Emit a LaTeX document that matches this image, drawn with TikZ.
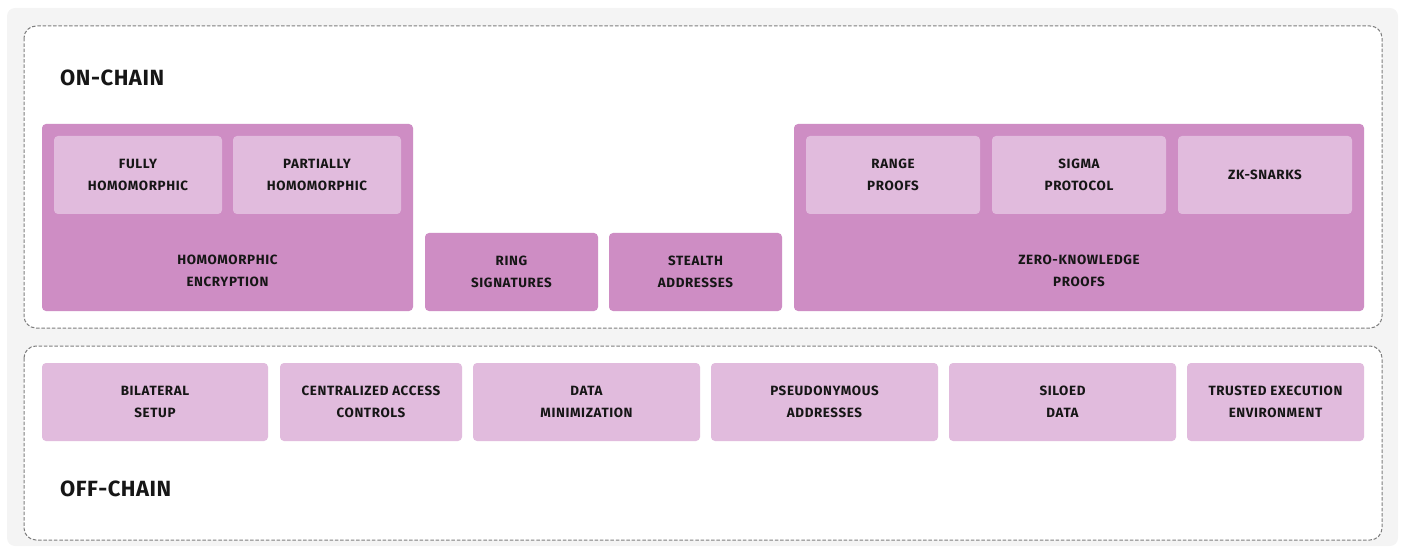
\documentclass[tikz,border=0pt]{standalone}
\usepackage{fontspec}
\setmainfont{Fira Sans}
\definecolor{pagegray}{HTML}{F4F4F4}
\definecolor{frame}{HTML}{7E7E7E}
\definecolor{groupfill}{HTML}{CE8DC4}
\definecolor{itemfill}{HTML}{E1BBDD}
\definecolor{ink}{HTML}{161616}
\tikzset{
  zone/.style={draw=frame, line width=1pt, dash pattern=on 3.5pt off 1.8pt, fill=white, rounded corners=12pt},
  groupbox/.style={fill=groupfill, rounded corners=4pt},
  itembox/.style={fill=itemfill, rounded corners=4pt},
  tag/.style={text=ink, align=center, font=\bfseries\fontsize{13.4}{22}\selectfont\addfontfeatures{LetterSpace=4.5}},
  heading/.style={text=ink, anchor=base west, inner sep=0pt, font=\bfseries\fontsize{22}{26}\selectfont\addfontfeatures{LetterSpace=2.5}},
}
\begin{document}
\begin{tikzpicture}[x=1pt, y=-1pt]
\useasboundingbox (0,0) rectangle (1403,548);
\fill[pagegray, rounded corners=8pt] (7,8) rectangle (1398,546);

% on-chain zone
\draw[zone] (24,26) rectangle (1382,328);
\node[heading] (onchain) at (60,86) {ON-CHAIN};

\fill[groupbox] (42,124) rectangle (413,311);
\coordinate (he) at (227.5,271);
\node[tag] (heText) at (he) {HOMOMORPHIC\\ENCRYPTION};
\fill[itembox] (54,136) rectangle (222,214);
\node[tag] (fully) at (138,175) {FULLY\\HOMOMORPHIC};
\fill[itembox] (233,136) rectangle (401,214);
\node[tag] (partially) at (317,175) {PARTIALLY\\HOMOMORPHIC};

\fill[groupbox] (425,233) rectangle (598,311);
\node[tag] (ring) at (511.5,272) {RING\\SIGNATURES};
\fill[groupbox] (609,233) rectangle (782,311);
\node[tag] (stealth) at (695.5,272) {STEALTH\\ADDRESSES};

\fill[groupbox] (794,124) rectangle (1364,311);
\node[tag] (zkp) at (1079,271) {ZERO-KNOWLEDGE\\PROOFS};
\fill[itembox] (806,136) rectangle (980,214);
\node[tag] (range) at (893,175) {RANGE\\PROOFS};
\fill[itembox] (992,136) rectangle (1166,214);
\node[tag] (sigma) at (1079,175) {SIGMA\\PROTOCOL};
\fill[itembox] (1178,136) rectangle (1352,214);
\node[tag] (snarks) at (1265,175) {ZK-SNARKS};

% off-chain zone
\draw[zone] (24,346) rectangle (1382,540);
\node[heading] (offchain) at (60,496) {OFF-CHAIN};

\fill[itembox] (42,363) rectangle (268,441);
\node[tag] (bilateral) at (155,402) {BILATERAL\\SETUP};
\fill[itembox] (280,363) rectangle (462,441);
\node[tag] (central) at (371,402) {CENTRALIZED ACCESS\\CONTROLS};
\fill[itembox] (473,363) rectangle (700,441);
\node[tag] (minim) at (586.5,402) {DATA\\MINIMIZATION};
\fill[itembox] (711,363) rectangle (938,441);
\node[tag] (pseudo) at (824.5,402) {PSEUDONYMOUS\\ADDRESSES};
\fill[itembox] (949,363) rectangle (1176,441);
\node[tag] (siloed) at (1062.5,402) {SILOED\\DATA};
\fill[itembox] (1187,363) rectangle (1364,441);
\node[tag] (tee) at (1275.5,402) {TRUSTED EXECUTION\\ENVIRONMENT};
\end{tikzpicture}
\end{document}
